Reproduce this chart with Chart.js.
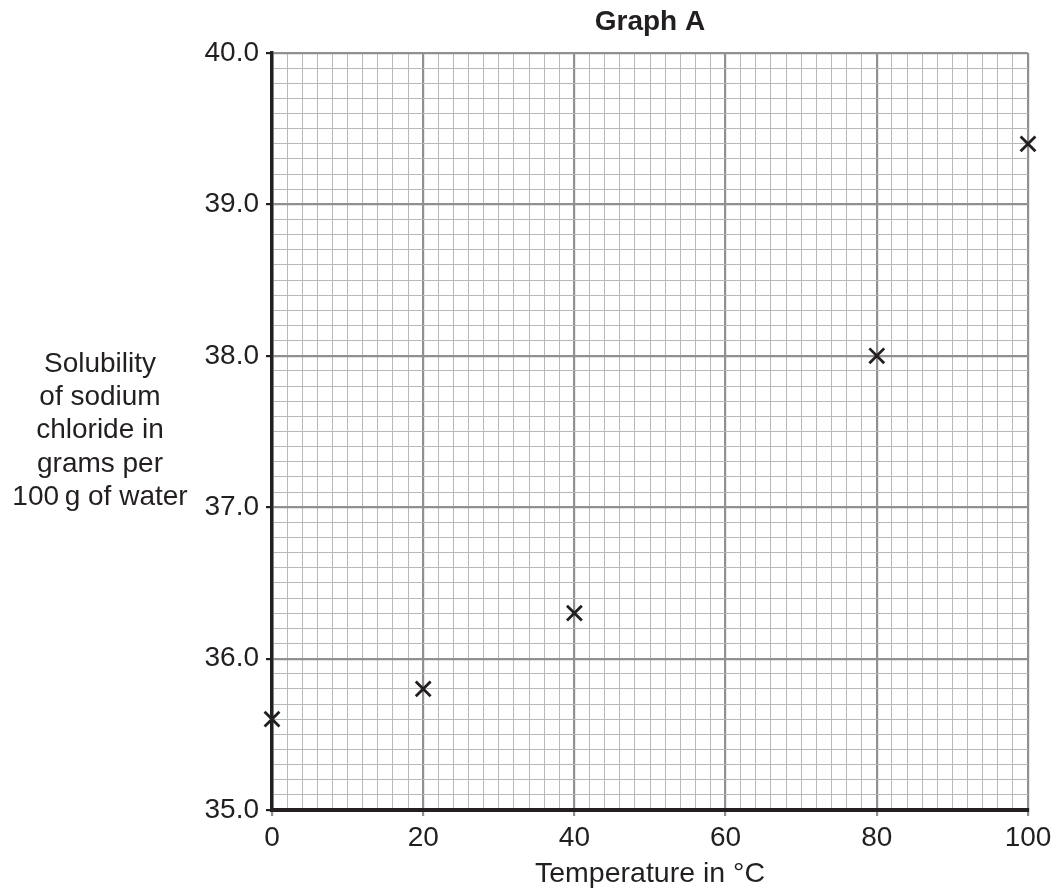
<!DOCTYPE html>
<html>
<head>
<meta charset="utf-8">
<script src="https://cdn.jsdelivr.net/npm/chart.js@4/dist/chart.umd.min.js"></script>
<style>
  body { margin: 0; background: #fff; }
  canvas { display: block; }
</style>
</head>
<body>
<canvas id="graphA" width="1057" height="890"></canvas>
<script>
// données
const temperatures = [0, 20, 40, 80, 100];
const solubility = [35.6, 35.8, 36.3, 38.0, 39.4];
const xMajorTicks = [0, 20, 40, 60, 80, 100];
const yMajorTicks = [35.0, 36.0, 37.0, 38.0, 39.0, 40.0];
const yLabelLines = ['Solubility', 'of sodium', 'chloride in', 'grams per', '100\u2009g of water'];

const ink = '#231f20';
const FONT = '"Liberation Sans", Arial, Helvetica, sans-serif';

const isMajorX = v => xMajorTicks.some(t => Math.abs(t - v) < 1e-6);
const isMajorY = v => yMajorTicks.some(t => Math.abs(t - v) < 1e-6);

// textes hors axes : titre, légende des axes
const extraText = {
  id: 'extraText',
  afterDraw(chart) {
    const ctx = chart.ctx;
    const area = chart.chartArea;
    const cx = (area.left + area.right) / 2;
    ctx.save();
    ctx.fillStyle = ink;
    ctx.textAlign = 'center';
    ctx.textBaseline = 'middle';
    ctx.font = 'bold 28px ' + FONT;
    ctx.fillText('Graph A', cx, 22);
    ctx.font = '28.5px ' + FONT;
    ctx.fillText('Temperature in \u00b0C', cx, 874);
    ctx.font = '28px ' + FONT;
    yLabelLines.forEach((line, i) => {
      ctx.fillText(line, 100, 364 + i * 33.3);
    });
    ctx.restore();
  }
};

new Chart(document.getElementById('graphA'), {
  type: 'scatter',
  data: {
    datasets: [{
      data: temperatures.map((t, i) => ({ x: t, y: solubility[i] })),
      pointStyle: 'crossRot',
      pointRadius: 10.5,
      pointHoverRadius: 10.5,
      borderColor: ink,
      backgroundColor: ink,
      pointBorderWidth: 2.8,
      showLine: false,
      clip: false
    }]
  },
  options: {
    responsive: false,
    animation: false,
    devicePixelRatio: 1,
    layout: { padding: { top: 53, right: 29, bottom: 0, left: 0 } },
    plugins: { legend: { display: false }, tooltip: { enabled: false } },
    scales: {
      x: {
        type: 'linear',
        min: 0,
        max: 100,
        afterFit: s => { s.height = 80; },
        ticks: {
          stepSize: 2,
          maxTicksLimit: 100,
          autoSkip: false,
          maxRotation: 0,
          padding: 5,
          color: ink,
          font: { family: FONT, size: 28 },
          callback: v => isMajorX(v) ? String(v) : ''
        },
        grid: {
          color: c => isMajorX(c.tick.value) ? '#909090' : '#b8b8b8',
          lineWidth: c => isMajorX(c.tick.value) ? 2.2 : 1,
          tickColor: c => isMajorX(c.tick.value) ? '#909090' : 'rgba(0,0,0,0)',
          tickLength: 6
        },
        border: { color: ink, width: 4 }
      },
      y: {
        type: 'linear',
        min: 35,
        max: 40,
        afterFit: s => { s.width = 272; },
        ticks: {
          stepSize: 0.1,
          maxTicksLimit: 100,
          autoSkip: false,
          padding: 7,
          color: ink,
          font: { family: FONT, size: 28 },
          callback: v => isMajorY(v) ? v.toFixed(1) : ''
        },
        grid: {
          color: c => isMajorY(c.tick.value) ? '#909090' : '#b8b8b8',
          lineWidth: c => isMajorY(c.tick.value) ? 2.2 : 1,
          tickColor: c => isMajorY(c.tick.value) ? ink : 'rgba(0,0,0,0)',
          tickLength: 6
        },
        border: { color: ink, width: 3.5 }
      }
    }
  },
  plugins: [extraText]
});
</script>
</body>
</html>
